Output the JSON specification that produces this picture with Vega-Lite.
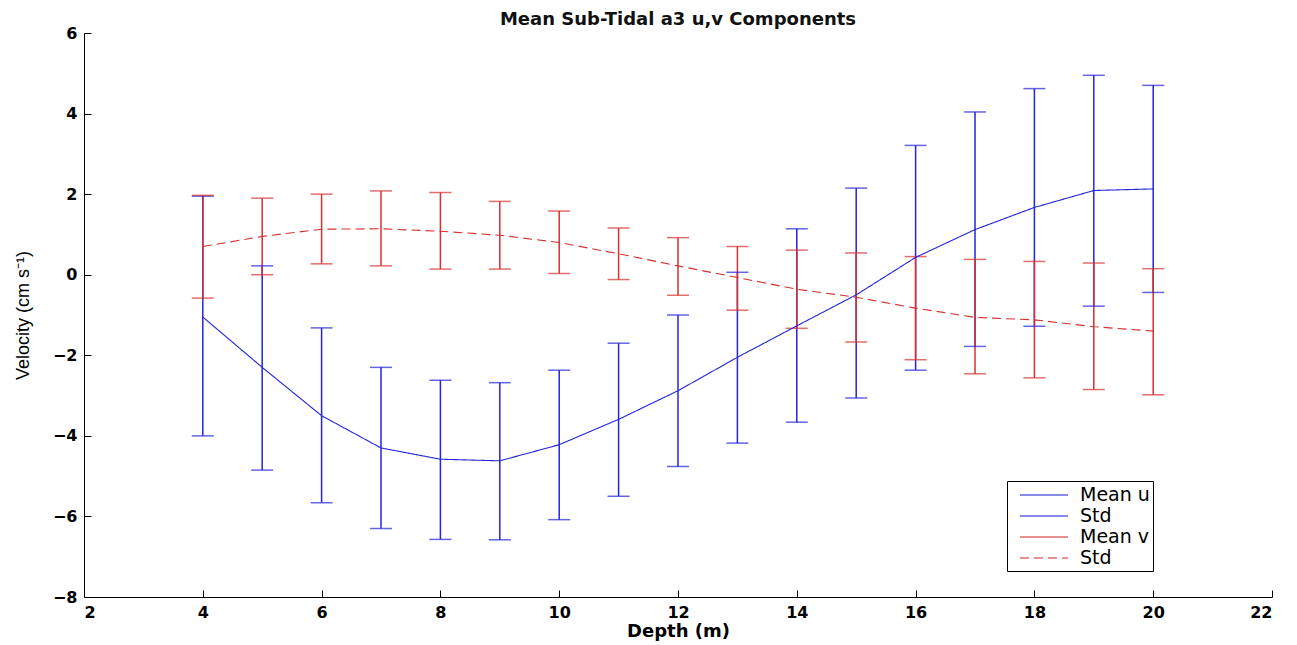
{
  "$schema": "https://vega.github.io/schema/vega-lite/v6.json",
  "autosize": "none",
  "width": 1188,
  "height": 564,
  "padding": {"left": 84, "top": 33, "right": 25, "bottom": 48},
  "background": "white",
  "title": {"text": "Mean Sub-Tidal a3 u,v Components", "font": "DejaVu Sans", "fontSize": 18, "fontWeight": "bold", "color": "#111", "offset": -4, "anchor": "middle"},
  "config": {
    "view": {"stroke": null},
    "axis": {"grid": false, "domainColor": "#000", "tickColor": "#000", "labelColor": "#000", "titleColor": "#000", "labelFont": "DejaVu Sans", "labelFontWeight": "bold", "labelFontSize": 16, "titleFont": "DejaVu Sans", "titleFontWeight": "bold", "titleFontSize": 18, "tickSize": -7, "labelPadding": 14},
    "legend": {"labelFont": "DejaVu Sans", "labelFontSize": 19, "labelColor": "#000"}
  },
  "data": {"values": [
    {"depth": 4, "comp": "u", "mean": -1.05, "low": -4.0, "high": 1.95},
    {"depth": 5, "comp": "u", "mean": -2.3, "low": -4.85, "high": 0.22},
    {"depth": 6, "comp": "u", "mean": -3.5, "low": -5.66, "high": -1.32},
    {"depth": 7, "comp": "u", "mean": -4.3, "low": -6.3, "high": -2.3},
    {"depth": 8, "comp": "u", "mean": -4.58, "low": -6.57, "high": -2.62},
    {"depth": 9, "comp": "u", "mean": -4.62, "low": -6.58, "high": -2.68},
    {"depth": 10, "comp": "u", "mean": -4.22, "low": -6.08, "high": -2.37},
    {"depth": 11, "comp": "u", "mean": -3.59, "low": -5.5, "high": -1.7},
    {"depth": 12, "comp": "u", "mean": -2.88, "low": -4.76, "high": -1.0},
    {"depth": 13, "comp": "u", "mean": -2.05, "low": -4.18, "high": 0.06},
    {"depth": 14, "comp": "u", "mean": -1.27, "low": -3.66, "high": 1.14},
    {"depth": 15, "comp": "u", "mean": -0.5, "low": -3.06, "high": 2.15},
    {"depth": 16, "comp": "u", "mean": 0.43, "low": -2.37, "high": 3.21},
    {"depth": 17, "comp": "u", "mean": 1.12, "low": -1.78, "high": 4.04},
    {"depth": 18, "comp": "u", "mean": 1.67, "low": -1.28, "high": 4.62},
    {"depth": 19, "comp": "u", "mean": 2.09, "low": -0.78, "high": 4.95},
    {"depth": 20, "comp": "u", "mean": 2.13, "low": -0.44, "high": 4.7},
    {"depth": 4, "comp": "v", "mean": 0.7, "low": -0.58, "high": 1.97},
    {"depth": 5, "comp": "v", "mean": 0.95, "low": 0.0, "high": 1.9},
    {"depth": 6, "comp": "v", "mean": 1.13, "low": 0.27, "high": 2.0},
    {"depth": 7, "comp": "v", "mean": 1.14, "low": 0.22, "high": 2.08},
    {"depth": 8, "comp": "v", "mean": 1.08, "low": 0.14, "high": 2.04},
    {"depth": 9, "comp": "v", "mean": 0.98, "low": 0.14, "high": 1.82},
    {"depth": 10, "comp": "v", "mean": 0.8, "low": 0.03, "high": 1.58},
    {"depth": 11, "comp": "v", "mean": 0.52, "low": -0.12, "high": 1.16},
    {"depth": 12, "comp": "v", "mean": 0.22, "low": -0.51, "high": 0.92},
    {"depth": 13, "comp": "v", "mean": -0.07, "low": -0.88, "high": 0.7},
    {"depth": 14, "comp": "v", "mean": -0.36, "low": -1.33, "high": 0.61},
    {"depth": 15, "comp": "v", "mean": -0.56, "low": -1.67, "high": 0.54},
    {"depth": 16, "comp": "v", "mean": -0.83, "low": -2.11, "high": 0.45},
    {"depth": 17, "comp": "v", "mean": -1.06, "low": -2.46, "high": 0.38},
    {"depth": 18, "comp": "v", "mean": -1.12, "low": -2.56, "high": 0.33},
    {"depth": 19, "comp": "v", "mean": -1.29, "low": -2.85, "high": 0.29},
    {"depth": 20, "comp": "v", "mean": -1.4, "low": -2.98, "high": 0.15}
  ]},
  "encoding": {
    "x": {"field": "depth", "type": "quantitative", "title": "Depth (m)", "scale": {"domain": [2, 22], "nice": false, "zero": false}, "axis": {"values": [2, 4, 6, 8, 10, 12, 14, 16, 18, 20, 22], "titlePadding": 2}}
  },
  "layer": [
    {
      "mark": {"type": "rule", "strokeWidth": 1.5},
      "encoding": {
        "y": {"field": "low", "type": "quantitative", "title": "Velocity (cm s⁻¹)", "scale": {"domain": [-8, 6], "nice": false}, "axis": {"values": [-8, -6, -4, -2, 0, 2, 4, 6], "titlePadding": 20, "titleFont": "Liberation Sans", "titleFontWeight": "normal", "titleFontSize": 18}},
        "y2": {"field": "high"},
        "color": {"field": "comp", "type": "nominal", "scale": {"domain": ["u", "us", "vm", "v"], "range": ["#2424d8", "#2424d8", "#d63030", "#d63030"]}}
      }
    },
    {
      "mark": {"type": "tick", "orient": "horizontal", "size": 22, "thickness": 1.5},
      "encoding": {"y": {"field": "low", "type": "quantitative"}, "color": {"field": "comp", "type": "nominal"}}
    },
    {
      "mark": {"type": "tick", "orient": "horizontal", "size": 22, "thickness": 1.5},
      "encoding": {"y": {"field": "high", "type": "quantitative"}, "color": {"field": "comp", "type": "nominal"}}
    },
    {
      "mark": {"type": "line", "strokeWidth": 1.1},
      "encoding": {
        "y": {"field": "mean", "type": "quantitative"},
        "color": {"field": "comp", "type": "nominal", "legend": {"title": null, "orient": "none", "legendX": 923, "legendY": 448, "direction": "vertical", "symbolType": "M-2.4,0H2.4", "symbolSize": 400, "symbolOffset": 23, "symbolStrokeWidth": 1.3, "strokeColor": "#000", "fillColor": "white", "padding": 3, "rowPadding": -5, "labelOffset": 25, "labelExpr": "datum.label == 'u' ? 'Mean u\u00a0\u00a0\u00a0\u00a0\u00a0' : datum.label == 'vm' ? 'Mean v\u00a0\u00a0\u00a0\u00a0\u00a0' : 'Std'"}},
        "strokeDash": {"field": "comp", "type": "nominal", "scale": {"domain": ["u", "us", "vm", "v"], "range": [[1, 0], [1, 0], [1, 0], [9, 5]]}, "legend": {"title": null, "orient": "none", "legendX": 923, "legendY": 448, "direction": "vertical", "symbolType": "M-2.4,0H2.4", "symbolSize": 400, "symbolOffset": 23, "symbolStrokeWidth": 1.3, "strokeColor": "#000", "fillColor": "white", "padding": 3, "rowPadding": -5, "labelOffset": 25, "labelExpr": "datum.label == 'u' ? 'Mean u\u00a0\u00a0\u00a0\u00a0\u00a0' : datum.label == 'vm' ? 'Mean v\u00a0\u00a0\u00a0\u00a0\u00a0' : 'Std'"}}
      }
    }
  ]
}
